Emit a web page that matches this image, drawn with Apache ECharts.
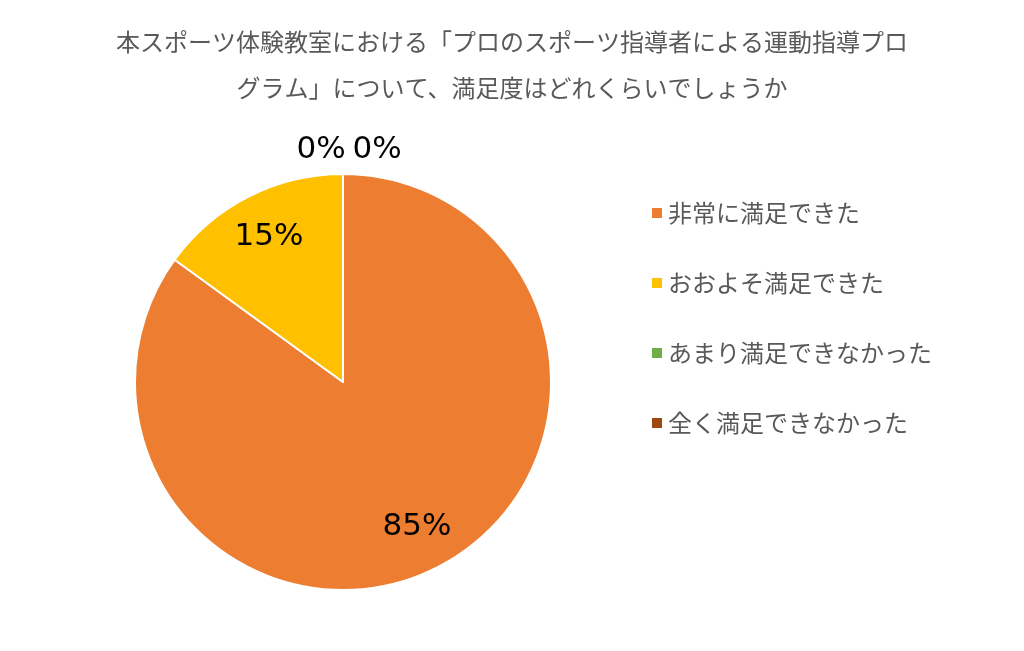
<!DOCTYPE html>
<html><head><meta charset="utf-8">
<script src="https://cdn.jsdelivr.net/npm/echarts@6/dist/echarts.min.js"></script>
<style>html,body{margin:0;padding:0;background:#fff}#c{width:1024px;height:651px}</style>
</head><body><div id="c"></div>
<script>
const titleText = '本スポーツ体験教室における「プロのスポーツ指導者による運動指導プロ\nグラム」について、満足度はどれくらいでしょうか';
const categories = ['非常に満足できた', 'おおよそ満足できた', 'あまり満足できなかった', '全く満足できなかった'];
const values = [85, 15, 0, 0];
const colors = ['#ED7D31', '#FFC000', '#70AD47', '#9E480E'];

const chart = echarts.init(document.getElementById('c'));
const data = categories.map((n, i) => ({ name: n, value: values[i], itemStyle: { color: colors[i] } }));
const labelData = categories.map((n, i) => ({
  name: n, value: values[i],
  label: values[i] === 0 ? { position: 'outside' } : { position: 'inside' }
}));
chart.setOption({
  animation: false,
  title: {
    text: titleText, left: 'center', top: 14,
    textStyle: { fontFamily: 'Noto Sans CJK JP', fontSize: 24, fontWeight: 'normal', color: '#595959', lineHeight: 46 }
  },
  legend: {
    orient: 'vertical', left: 645, top: 192,
    itemWidth: 12, itemHeight: 12, itemGap: 38, icon: 'rect',
    data: categories,
    textStyle: { fontFamily: 'Noto Sans CJK JP', fontSize: 24, color: '#595959', lineHeight: 32 }
  },
  series: [{
    type: 'pie', center: [343, 382], radius: 208, startAngle: 90, clockwise: true,
    label: { show: false }, labelLine: { show: false },
    itemStyle: { borderColor: '#fff', borderWidth: 2 },
    minShowLabelAngle: 0, stillShowZeroSum: true,
    data: data
  }, {
    type: 'pie', center: [343, 382], radius: [112, 208], startAngle: 90, clockwise: true,
    silent: true, avoidLabelOverlap: false, legendHoverLink: false,
    itemStyle: { color: 'rgba(0,0,0,0)' },
    emptyCircleStyle: { opacity: 0 },
    label: { show: true, formatter: '{d}%', fontFamily: 'DejaVu Sans', fontSize: 31, color: '#000' },
    labelLine: { show: false, length: 6, length2: 0 },
    labelLayout: function (p) {
      if (p.dataIndex === 2) return { x: 321, y: 150, align: 'center', verticalAlign: 'middle' };
      if (p.dataIndex === 3) return { x: 377, y: 150, align: 'center', verticalAlign: 'middle' };
    },
    data: labelData
  }]
});
</script></body></html>
